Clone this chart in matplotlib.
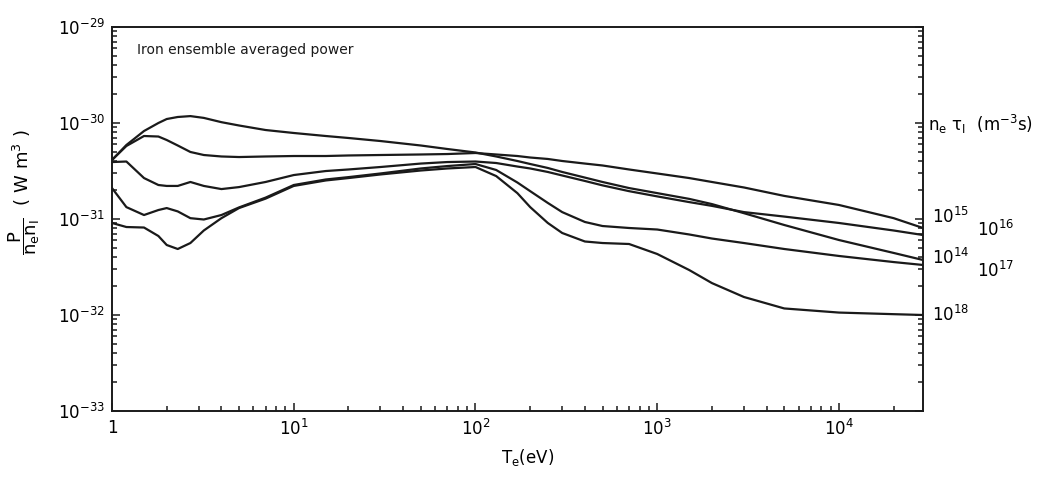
#!/usr/bin/env python3
"""Iron ensemble averaged radiated power vs electron temperature, for several n_e*tau_I."""
import math
import matplotlib
matplotlib.use("Agg")
import matplotlib.pyplot as plt
import matplotlib.ticker as mticker

plt.rcParams["font.family"] = ["DejaVu Sans"]
plt.rcParams["mathtext.default"] = "regular"

te = [1, 1.2, 1.5, 1.8, 2, 2.3, 2.7, 3.2, 4, 5, 7, 10, 15, 20, 30, 50, 70, 100,
      130, 170, 200, 250, 300, 400, 500, 700, 1000, 1500, 2000, 3000, 5000,
      10000, 20000, 29000]

# P/(n_e n_I) in W m^3, one list per n_e tau_I
p_1e14 = [4.12e-31, 5.90e-31, 8.25e-31, 1.00e-30, 1.10e-30, 1.155e-30, 1.18e-30,
          1.13e-30, 1.02e-30, 9.42e-31, 8.45e-31, 7.87e-31, 7.32e-31, 6.98e-31,
          6.49e-31, 5.83e-31, 5.36e-31, 4.93e-31, 4.48e-31, 4.02e-31, 3.74e-31,
          3.40e-31, 3.09e-31, 2.70e-31, 2.43e-31, 2.10e-31, 1.86e-31, 1.62e-31,
          1.43e-31, 1.15e-31, 8.66e-32, 6.04e-32, 4.43e-32, 3.74e-32]
p_1e15 = [4.12e-31, 5.76e-31, 7.32e-31, 7.23e-31, 6.65e-31, 5.83e-31, 4.99e-31,
          4.64e-31, 4.48e-31, 4.42e-31, 4.48e-31, 4.53e-31, 4.53e-31, 4.59e-31,
          4.64e-31, 4.70e-31, 4.75e-31, 4.87e-31, 4.70e-31, 4.53e-31, 4.37e-31,
          4.22e-31, 4.02e-31, 3.78e-31, 3.61e-31, 3.28e-31, 2.98e-31, 2.67e-31,
          2.43e-31, 2.13e-31, 1.74e-31, 1.40e-31, 1.02e-31, 8.06e-32]
p_1e16 = [3.92e-31, 3.97e-31, 2.67e-31, 2.26e-31, 2.21e-31, 2.21e-31, 2.43e-31,
          2.21e-31, 2.05e-31, 2.15e-31, 2.43e-31, 2.87e-31, 3.16e-31, 3.28e-31,
          3.48e-31, 3.78e-31, 3.92e-31, 3.97e-31, 3.83e-31, 3.52e-31, 3.36e-31,
          3.09e-31, 2.84e-31, 2.49e-31, 2.24e-31, 1.95e-31, 1.72e-31, 1.50e-31,
          1.37e-31, 1.18e-31, 1.06e-31, 9.09e-32, 7.59e-32, 6.81e-32]
p_1e17 = [2.10e-31, 1.33e-31, 1.10e-31, 1.24e-31, 1.30e-31, 1.20e-31, 1.02e-31,
          9.88e-32, 1.10e-31, 1.32e-31, 1.67e-31, 2.26e-31, 2.58e-31, 2.73e-31,
          2.98e-31, 3.36e-31, 3.56e-31, 3.74e-31, 3.24e-31, 2.40e-31, 1.95e-31,
          1.47e-31, 1.18e-31, 9.31e-32, 8.45e-32, 8.06e-32, 7.77e-32, 6.90e-32,
          6.26e-32, 5.62e-32, 4.87e-32, 4.12e-32, 3.56e-32, 3.32e-32]
p_1e18 = [9.09e-32, 8.25e-32, 8.15e-32, 6.65e-32, 5.36e-32, 4.87e-32, 5.62e-32,
          7.59e-32, 1.02e-31, 1.30e-31, 1.63e-31, 2.21e-31, 2.52e-31, 2.67e-31,
          2.91e-31, 3.20e-31, 3.36e-31, 3.48e-31, 2.80e-31, 1.86e-31, 1.33e-31,
          9.09e-32, 7.15e-32, 5.83e-32, 5.62e-32, 5.49e-32, 4.32e-32, 2.94e-32,
          2.15e-32, 1.54e-32, 1.17e-32, 1.06e-32, 1.02e-32, 1.00e-32]

curves = [p_1e14, p_1e15, p_1e16, p_1e17, p_1e18]

# tick decades
x_decades = [1, 10, 100, 1000, 10000]
y_decades = [1e-33, 1e-32, 1e-31, 1e-30, 1e-29]

# curve labels at the right edge: (exponent, x px, baseline y px)
end_labels = [("15", 932, 223), ("16", 977, 236), ("14", 932, 264),
              ("17", 977, 277), ("18", 932, 321)]

W, H = 1052, 479
XMAX = 2.9e4
fig = plt.figure(figsize=(W / 100, H / 100), dpi=100)
ax = fig.add_axes([112 / W, 1 - 411 / H, (923 - 112) / W, (411 - 27) / H])

for p in curves:
    ax.plot(te, p, color="#1a1a1a", lw=1.6, solid_joinstyle="round", solid_capstyle="round")

ax.set_xscale("log")
ax.set_yscale("log")
ax.set_xlim(1, XMAX)
ax.set_ylim(y_decades[0], y_decades[-1])


def pow_label(v, _):
    if abs(v - 1) < 1e-9:
        return "1"
    return r"$10^{%d}$" % round(math.log10(v))


x_minor = [d * k for d in x_decades for k in range(2, 10) if d * k <= XMAX]
y_minor = [d * k for d in y_decades[:-1] for k in range(2, 10)]
ax.xaxis.set_major_locator(mticker.FixedLocator(x_decades))
ax.xaxis.set_minor_locator(mticker.FixedLocator(x_minor))
ax.yaxis.set_major_locator(mticker.FixedLocator(y_decades))
ax.yaxis.set_minor_locator(mticker.FixedLocator(y_minor))
ax.xaxis.set_major_formatter(mticker.FuncFormatter(pow_label))
ax.yaxis.set_major_formatter(mticker.FuncFormatter(pow_label))
ax.xaxis.set_minor_formatter(mticker.NullFormatter())
ax.yaxis.set_minor_formatter(mticker.NullFormatter())

ax.tick_params(which="both", direction="in", top=False, right=True,
               width=1.1, color="#1a1a1a")
ax.tick_params(which="major", length=6, labelsize=12)
ax.tick_params(which="minor", length=3.5, labelleft=False, labelbottom=False)
ax.tick_params(axis="x", pad=6)
ax.tick_params(axis="y", pad=5)
for s in ax.spines.values():
    s.set_linewidth(1.4)
    s.set_color("#1a1a1a")

fig.text(137 / W, 1 - 50 / H, "Iron ensemble averaged power",
         fontsize=10, ha="left", va="center", color="#1a1a1a")

fig.text(528 / W, 1 - 458 / H, r"$T_e(eV)$", fontsize=12, ha="center", va="center")
fig.text(24 / W, 1 - 192 / H, r"$\dfrac{P}{n_e n_I}\ \ (\ W\ m^3\ )$", fontsize=13,
         rotation=90, ha="center", va="center")
fig.text(928 / W, 1 - 124 / H, r"$n_e\ \tau_I\ \ (m^{-3} s)$", fontsize=12,
         ha="left", va="center")

for exp, x, y in end_labels:
    fig.text(x / W, 1 - y / H, r"$10^{%s}$" % exp, fontsize=12, ha="left", va="baseline")

fig.savefig("out.png", dpi=100)
